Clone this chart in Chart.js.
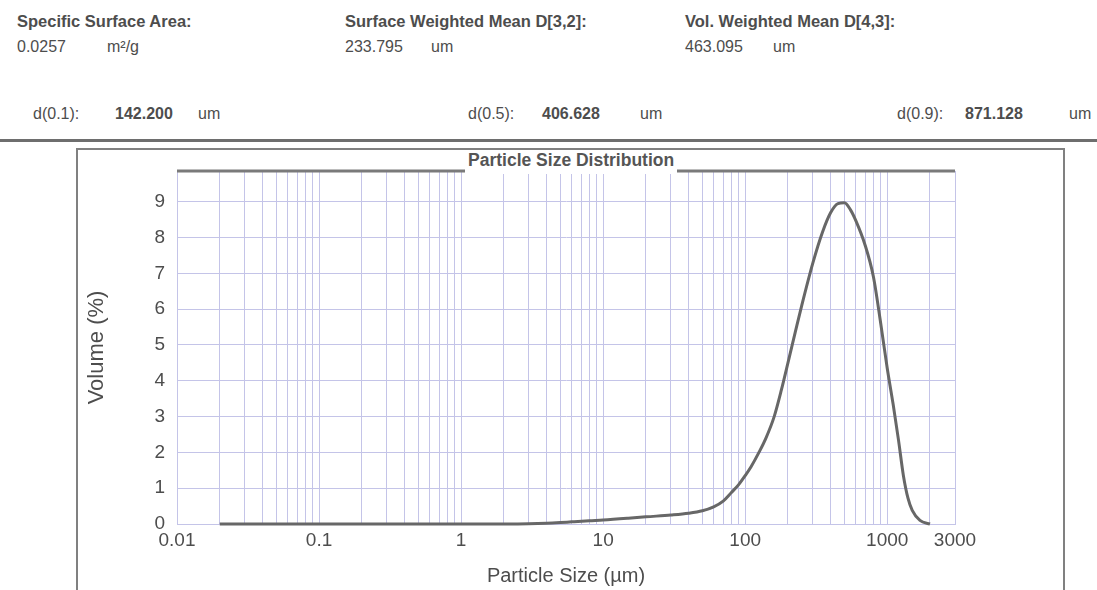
<!DOCTYPE html>
<html lang="en">
<head>
  <meta charset="UTF-8">
  <title>Particle Size Distribution</title>
  <script src="https://cdn.jsdelivr.net/npm/chart.js"></script>
  <style>
    body{margin:0; background:#fff; font-family:"Liberation Sans", Arial, sans-serif; color:#4d4d4d;}
    #page{position:relative; width:1097px; height:590px; overflow:hidden;}
    .t{position:absolute; font-size:16px; line-height:1; white-space:nowrap;}
    .h{font-weight:bold; font-size:16.5px;}
    .b{font-weight:bold;}
    #sep{position:absolute; left:0; top:139px; width:1097px; height:3px; background:#6e6e6e;}
    #frame{position:absolute; left:76px; top:148px; width:985px; height:470px; border:2px solid #808080;}
    #myChart{position:absolute; left:0; top:0;}
    #ttl{position:absolute; left:465px; top:150px; height:22px; padding:2px 3px 0 3px; background:#fff;
         font-weight:bold; font-size:17.5px; line-height:1; color:#555;}
  </style>
</head>
<body>
<div id="page">
  <!-- header -->
  <div class="t h" style="left:17px; top:13px;">Specific Surface Area:</div>
  <div class="t" style="left:17px; top:39px;">0.0257</div>
  <div class="t" style="left:107px; top:39px;">m²/g</div>

  <div class="t h" style="left:345px; top:13px;">Surface Weighted Mean D[3,2]:</div>
  <div class="t" style="left:345px; top:39px;">233.795</div>
  <div class="t" style="left:431px; top:39px;">um</div>

  <div class="t h" style="left:685px; top:13px;">Vol. Weighted Mean D[4,3]:</div>
  <div class="t" style="left:685px; top:39px;">463.095</div>
  <div class="t" style="left:773px; top:39px;">um</div>

  <div class="t" style="left:33px; top:106px;">d(0.1):</div>
  <div class="t b" style="left:115px; top:106px;">142.200</div>
  <div class="t" style="left:198px; top:106px;">um</div>

  <div class="t" style="left:468px; top:106px;">d(0.5):</div>
  <div class="t b" style="left:542px; top:106px;">406.628</div>
  <div class="t" style="left:640px; top:106px;">um</div>

  <div class="t" style="left:897px; top:106px;">d(0.9):</div>
  <div class="t b" style="left:965px; top:106px;">871.128</div>
  <div class="t" style="left:1069px; top:106px;">um</div>

  <div id="sep"></div>
  <div id="frame"></div>
  <canvas id="myChart" width="1097" height="590"></canvas>
  <div id="ttl">Particle Size Distribution</div>
</div>

<script>
  // particle size (um) and volume (%)
  const sizes  = [0.02, 0.05, 0.1, 0.2, 0.5, 1, 2, 3, 4, 5, 6, 8,
                  10, 15, 20, 30, 40, 50, 60, 70, 80, 90,
                  100, 110, 125, 140, 160, 180, 200, 225, 250, 300, 350, 400, 450, 500, 550, 600, 700, 800, 900,
                  1000, 1100, 1200, 1300, 1400, 1500, 1700, 2000];
  const volume = [0, 0, 0, 0, 0, 0, 0, 0.005, 0.02, 0.04, 0.06, 0.09,
                  0.11, 0.16, 0.2, 0.25, 0.3, 0.37, 0.48, 0.64, 0.88, 1.1,
                  1.35, 1.6, 2.0, 2.4, 3.0, 3.75, 4.5, 5.35, 6.1, 7.3, 8.15, 8.7, 8.95, 8.97, 8.78, 8.48, 7.78, 6.9, 5.6,
                  4.35, 3.35, 2.35, 1.35, 0.72, 0.38, 0.1, 0];

  const xMajor = [0.01, 0.1, 1, 10, 100, 1000, 3000];
  const xTickLabels = ['0.01', '0.1', '1', '10', '100', '1000', '3000'];
  const yTicks = [0, 1, 2, 3, 4, 5, 6, 7, 8, 9];
  const yTickLabels = ['0', '1', '2', '3', '4', '5', '6', '7', '8', '9'];

  // grid lines at every 1..9 step of each decade, up to 3000
  const xGrid = [];
  [0.01, 0.1, 1, 10, 100, 1000].forEach(function(d){
    for(let m = 1; m <= 9; m++){
      const v = +(d*m).toPrecision(6);
      if(v <= 3000) xGrid.push(v);
    }
  });

  const font = '"Liberation Sans", Arial, sans-serif';
  const gridColor = '#c4c4e8';
  const txt = '#4d4d4d';

  const topLine = {
    id: 'topLine',
    afterDraw(chart){
      const a = chart.chartArea, c = chart.ctx;
      c.save();
      c.strokeStyle = '#7a7a7a';
      c.lineWidth = 3;
      c.beginPath();
      c.moveTo(a.left, a.top);
      c.lineTo(a.right, a.top);
      c.stroke();
      c.restore();
    }
  };

  const ctx = document.getElementById('myChart');
  new Chart(ctx, {
    type: 'line',
    data: {
      datasets: [{
        data: sizes.map((s, i) => ({x: s, y: volume[i]})),
        borderColor: '#676767',
        borderWidth: 3,
        pointRadius: 0,
        fill: false,
        cubicInterpolationMode: 'monotone',
        clip: 6
      }]
    },
    options: {
      responsive: false,
      animation: false,
      layout: { padding: { left: 77, right: 142, top: 171, bottom: 0 } },
      plugins: { legend: { display: false }, tooltip: { enabled: false } },
      scales: {
        x: {
          type: 'logarithmic',
          min: 0.01,
          max: 3000,
          afterBuildTicks: s => { s.ticks = xGrid.map(v => ({value: v})); },
          afterFit: s => { s.height = 66; },
          grid: { color: gridColor, lineWidth: 1, drawTicks: false },
          border: { color: gridColor },
          ticks: {
            autoSkip: false, maxRotation: 0, padding: 5, color: txt,
            font: { size: 19, family: font },
            callback: function(value){
              const i = xMajor.findIndex(m => Math.abs(value - m) / m < 1e-6);
              return i >= 0 ? xTickLabels[i] : '';
            }
          },
          title: { display: true, text: 'Particle Size (µm)', color: txt,
                   font: { size: 20, family: font }, padding: { top: 0, bottom: 2 } }
        },
        y: {
          min: 0,
          max: 9.86,
          afterBuildTicks: s => { s.ticks = yTicks.map(v => ({value: v})); },
          afterFit: s => { s.width = 100; },
          grid: { color: gridColor, lineWidth: 1, drawTicks: false },
          border: { color: gridColor },
          ticks: {
            padding: 12, color: txt,
            font: { size: 19, family: font },
            callback: function(value){
              const i = yTicks.indexOf(value);
              return i >= 0 ? yTickLabels[i] : '';
            }
          },
          title: { display: true, text: 'Volume (%)', color: txt,
                   font: { size: 22, family: font }, padding: { top: 7, bottom: 0 } }
        }
      }
    },
    plugins: [topLine]
  });
</script>
</body>
</html>
